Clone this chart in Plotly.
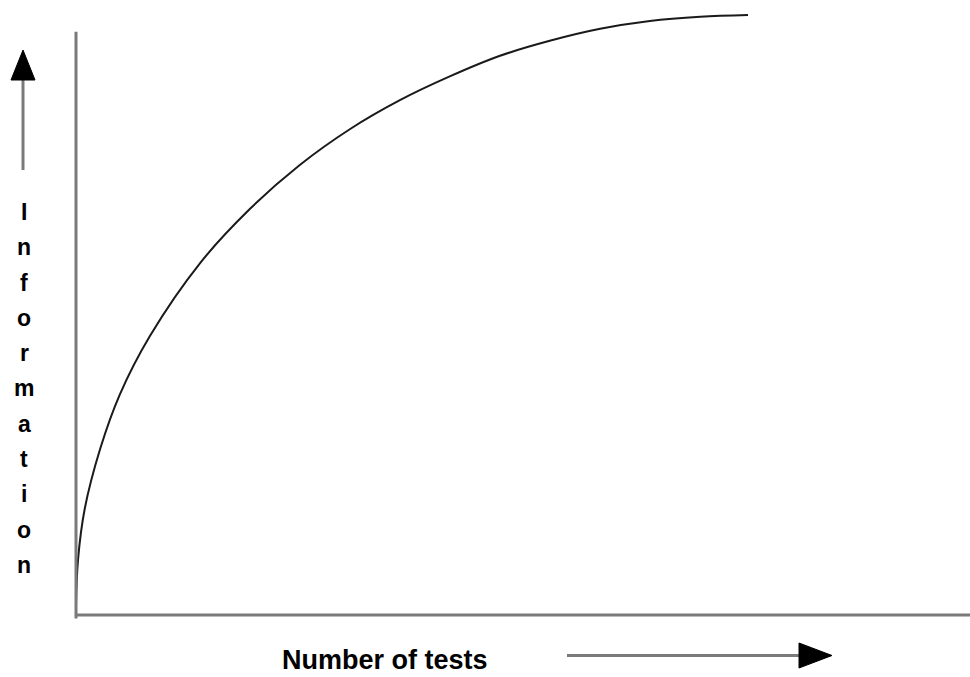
import plotly.graph_objects as go

# ---- data ----
tests = [0.0, 0.03, 0.13, 0.36, 0.65, 1.10, 1.85, 2.59, 3.33, 4.08, 4.82,
         5.57, 6.31, 7.05, 7.80, 8.54, 9.29, 10.0]
information = [0.17, 0.92, 1.77, 2.77, 3.67, 4.65, 5.87, 6.77, 7.50, 8.10,
               8.58, 8.98, 9.32, 9.57, 9.77, 9.90, 9.97, 10.0]

x_label = "Number of tests"
y_label = "Information"

W, H = 970, 677
FONT = "Liberation Sans, Arial, Helvetica, sans-serif"
AXIS_GREY = "#7a7a7a"


def px(x):
    return x / W


def py(y):
    return 1 - y / H


fig = go.Figure()
fig.add_trace(go.Scatter(
    x=tests, y=information, mode="lines", line_shape="spline",
    line=dict(color="#1a1a1a", width=2, smoothing=1.0), hoverinfo="skip", showlegend=False,
))

shapes = [
    # axes
    dict(type="line", xref="x", yref="y", x0=0, x1=13.31, y0=0.0, y1=0.0,
         line=dict(color=AXIS_GREY, width=3)),
    dict(type="line", xref="x", yref="y", x0=0, x1=0, y0=-0.06, y1=9.72,
         line=dict(color=AXIS_GREY, width=3)),
    # y arrow shaft and head
    dict(type="line", xref="paper", yref="paper", x0=px(23), x1=px(23),
         y0=py(170), y1=py(78), line=dict(color=AXIS_GREY, width=3)),
    dict(type="path", xref="paper", yref="paper",
         path=f"M {px(11)} {py(80)} L {px(23)} {py(50)} L {px(35)} {py(80)} Z",
         fillcolor="black", line=dict(color="black", width=1)),
    # x arrow shaft and head
    dict(type="line", xref="paper", yref="paper", x0=px(567), x1=px(802),
         y0=py(655.5), y1=py(655.5), line=dict(color=AXIS_GREY, width=3)),
    dict(type="path", xref="paper", yref="paper",
         path=f"M {px(799)} {py(643)} L {px(832)} {py(655.5)} L {px(799)} {py(668)} Z",
         fillcolor="black", line=dict(color="black", width=1)),
]

annotations = [
    dict(text=f"<b>{x_label}</b>", xref="paper", yref="paper", x=px(385), y=py(660),
         xanchor="center", yanchor="middle", showarrow=False,
         font=dict(family=FONT, size=27, color="black")),
]
for i, ch in enumerate(y_label):
    annotations.append(dict(
        text=f"<b>{ch}</b>", xref="paper", yref="paper", x=px(24),
        y=py(212 + i * 35.3), xanchor="center", yanchor="middle", showarrow=False,
        font=dict(family=FONT, size=23, color="black")))

fig.update_layout(
    width=W, height=H, margin=dict(l=0, r=0, t=0, b=0),
    paper_bgcolor="white", plot_bgcolor="white",
    xaxis=dict(range=[-76 / 67.2, (W - 76) / 67.2], visible=False, fixedrange=True),
    yaxis=dict(range=[(615 - H) / 60, 615 / 60], visible=False, fixedrange=True),
    shapes=shapes, annotations=annotations, showlegend=False,
)

fig.write_html("out.html", config={"displayModeBar": False},
               post_script="document.body.style.margin='0';document.body.style.overflow='hidden';")
